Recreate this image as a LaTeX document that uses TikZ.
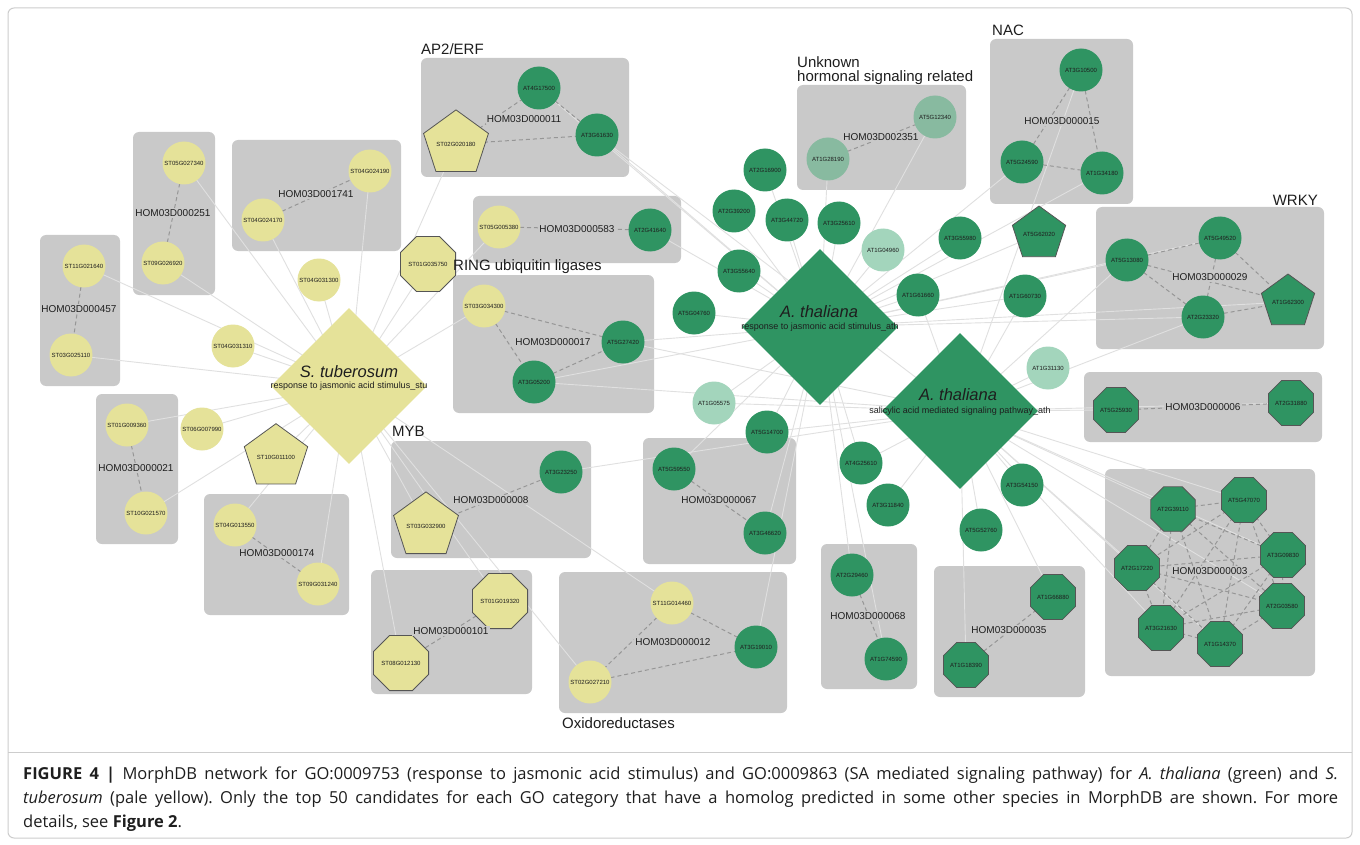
\documentclass[tikz,border=0pt]{standalone}
\usepackage{fontspec}
\setmainfont{Liberation Sans}
\newfontfamily\capfont{Open Sans}
\usetikzlibrary{shapes.geometric}
\pgfdeclarelayer{back}
\pgfdeclarelayer{boxes}
\pgfdeclarelayer{edges}
\pgfsetlayers{back,boxes,edges,main}
\frenchspacing

\definecolor{styellow}{RGB}{229,226,153}
\definecolor{atgreen}{RGB}{47,148,98}
\definecolor{atlight}{RGB}{163,213,188}
\definecolor{atmid}{RGB}{136,186,160}
\definecolor{boxgrey}{RGB}{201,201,201}
\definecolor{edgegrey}{RGB}{224,224,224}
\definecolor{dashgrey}{RGB}{150,150,150}
\definecolor{polyline}{RGB}{85,85,85}
\definecolor{txt}{RGB}{30,30,30}
\definecolor{framegrey}{RGB}{205,205,205}

\tikzset{
  gene/.style={circle, minimum size=43pt, inner sep=0pt, text=txt,
    font=\fontsize{6}{7}\selectfont},
  stc/.style={gene, fill=styellow},
  atc/.style={gene, fill=atgreen},
  atl/.style={gene, fill=atlight},
  atm/.style={gene, fill=atmid},
  pentnode/.style={regular polygon, regular polygon sides=5, minimum size=56pt,
    inner sep=0pt, draw=polyline, line width=0.8pt, text=txt,
    font=\fontsize{6}{7}\selectfont},
  octnode/.style={regular polygon, regular polygon sides=8, minimum size=47pt,
    inner sep=0pt, draw=polyline, line width=0.8pt, text=txt,
    font=\fontsize{6}{7}\selectfont},
  stp/.style={pentnode, fill=styellow},
  atp/.style={pentnode, fill=atgreen},
  sto/.style={octnode, fill=styellow},
  ato/.style={octnode, fill=atgreen},
  godiam/.style={diamond, minimum width=156pt, minimum height=156pt, inner sep=0pt},
  grp/.style={fill=boxgrey, rounded corners=6pt},
  homlab/.style={fill=boxgrey, inner sep=1pt, text=txt, font=\fontsize{10}{12}\selectfont},
  catlab/.style={text=txt, inner sep=0pt, font=\fontsize{15}{17}\selectfont},
  speclab/.style={text=txt, inner sep=0pt, font=\fontsize{16.5}{18}\selectfont\itshape},
  golab/.style={text=txt, inner sep=0pt, font=\fontsize{9}{10}\selectfont},
  goedge/.style={draw=edgegrey, line width=0.9pt},
  homedge/.style={draw=dashgrey, line width=1pt, dash pattern=on 4pt off 3pt},
  captxt/.style={anchor=base west, inner sep=0pt, text=txt, font=\capfont\fontsize{16.5}{18}\selectfont}
}
% one justified caption line, stretched to the full caption width
\newcommand\capline[1]{\makebox[1315pt][s]{#1}}

\begin{document}
\begin{tikzpicture}[x=1pt, y=-1pt]
\useasboundingbox (0,0) rectangle (1360,845);

\begin{pgfonlayer}{back}
  \fill[white] (0,0) rectangle (1360,845);
  \draw[framegrey, line width=1pt, rounded corners=6pt] (8,8) rectangle (1352,838);
  \draw[framegrey, line width=1pt] (8,752) -- (1352,752);
\end{pgfonlayer}

% homology group boxes
\begin{pgfonlayer}{boxes}
  \path[grp] (133,132) rectangle (215,295);
  \path[grp] (40,235) rectangle (120,386);
  \path[grp] (232,140) rectangle (401,251);
  \path[grp] (96,394) rectangle (178,544);
  \path[grp] (204,494) rectangle (349,615);
  \path[grp] (421,58) rectangle (629,177);
  \path[grp] (473,196) rectangle (681,263);
  \path[grp] (453,275) rectangle (654,413);
  \path[grp] (391,441) rectangle (591,558);
  \path[grp] (371,570) rectangle (532,694);
  \path[grp] (643,438) rectangle (796,564);
  \path[grp] (559,572) rectangle (787,713);
  \path[grp] (797,85) rectangle (966,190);
  \path[grp] (990,39) rectangle (1133,204);
  \path[grp] (1096,207) rectangle (1324,349);
  \path[grp] (821,544) rectangle (917,689);
  \path[grp] (934,566) rectangle (1085,697);
  \path[grp] (1084,372) rectangle (1322,442);
  \path[grp] (1105,469) rectangle (1315,676);
\end{pgfonlayer}

% GO category hubs
\node[godiam, fill=styellow] (stD) at (349,386) {};
\node[godiam, fill=atgreen] (jaD) at (820,327) {};
\node[godiam, fill=atgreen] (saD) at (960,411) {};
\node[speclab] (stT) at (349,372) {S. tuberosum};
\node[golab] (stS) at (349,386) {response to jasmonic acid stimulus\_stu};
\node[speclab] (jaT) at (819,312) {A. thaliana};
\node[golab] (jaS) at (820,327) {response to jasmonic acid stimulus\_ath};
\node[speclab] (saT) at (958,395) {A. thaliana};
\node[golab] (saS) at (960,411) {salicylic acid mediated signaling pathway\_ath};

% S. tuberosum genes
\node[stc] (s1) at (184,163) {ST05G027340};
\node[stc] (s2) at (163,263) {ST09G026920};
\node[stc] (s3) at (84,266) {ST11G021640};
\node[stc] (s4) at (71,355) {ST03G025110};
\node[stc] (s5) at (370,171) {ST04G024190};
\node[stc] (s6) at (263,220) {ST04G024170};
\node[stc] (s7) at (319,280) {ST04G031300};
\node[sto] (s8) at (428,264) {ST01G035750};
\node[stp] (s9) at (456,144) {ST02G020180};
\node[stc] (s10) at (499,227) {ST05G005380};
\node[stc] (s11) at (484,306) {ST03G034300};
\node[stc] (s12) at (233,346) {ST04G031310};
\node[stc] (s13) at (202,429) {ST06G007990};
\node[stc] (s14) at (127,425) {ST01G009360};
\node[stc] (s15) at (146,513) {ST10G021570};
\node[stp] (s16) at (276,457) {ST10G011100};
\node[stc] (s17) at (235,525) {ST04G013550};
\node[stc] (s18) at (318,584) {ST09G031240};
\node[stp] (s19) at (426,526) {ST03G032900};
\node[sto] (s20) at (500,601) {ST01G019320};
\node[sto] (s21) at (401,663) {ST08G012130};
\node[stc] (s22) at (672,603) {ST11G014460};
\node[stc] (s23) at (590,682) {ST02G027210};

% A. thaliana genes
\node[atc] (a1) at (539,88) {AT4G17500};
\node[atc] (a2) at (597,135) {AT3G61630};
\node[atc] (a3) at (650,230) {AT2G41640};
\node[atc] (a4) at (623,342) {AT5G27420};
\node[atc] (a5) at (534,382) {AT3G05200};
\node[atc] (a6) at (561,472) {AT3G23250};
\node[atc] (a7) at (674,469) {AT5G59550};
\node[atc] (a8) at (765,533) {AT3G46620};
\node[atc] (a9) at (767,432) {AT5G14700};
\node[atl] (a10) at (714,403) {AT1G05575};
\node[atc] (a11) at (756,647) {AT3G19010};
\node[atc] (a12) at (694,313) {AT5G04760};
\node[atc] (a13) at (739,271) {AT3G55640};
\node[atc] (a14) at (734,211) {AT2G39200};
\node[atc] (a15) at (765,170) {AT2G16900};
\node[atc] (a16) at (787,220) {AT3G44720};
\node[atc] (a17) at (839,223) {AT3G25610};
\node[atl] (a18) at (883,250) {AT1G04960};
\node[atm] (a19) at (828,159) {AT1G28190};
\node[atm] (a20) at (935,117) {AT5G12340};
\node[atc] (a21) at (960,238) {AT3G55980};
\node[atc] (a22) at (918,295) {AT1G61660};
\node[atc] (a23) at (1025,296) {AT1G60730};
\node[atc] (a24) at (1081,70) {AT3G10500};
\node[atc] (a25) at (1022,162) {AT5G24590};
\node[atc] (a26) at (1102,173) {AT1G34180};
\node[atp] (a27) at (1039,234) {AT5G62020};
\node[atc] (a28) at (1127,260) {AT5G13080};
\node[atc] (a29) at (1220,238) {AT5G49520};
\node[atc] (a30) at (1203,317) {AT2G23320};
\node[atp] (a31) at (1288,302) {AT1G62300};
\node[atl] (a32) at (1048,368) {AT1G31130};
\node[ato] (a33) at (1116,410) {AT5G25930};
\node[ato] (a34) at (1291,403) {AT2G31880};
\node[atc] (a35) at (861,463) {AT4G25610};
\node[atc] (a36) at (888,505) {AT3G11840};
\node[atc] (a37) at (981,530) {AT5G52760};
\node[atc] (a38) at (1022,485) {AT3G54150};
\node[atc] (a39) at (852,575) {AT2G29460};
\node[atc] (a40) at (886,659) {AT1G74590};
\node[ato] (a41) at (1053,597) {AT1G66880};
\node[ato] (a42) at (966,665) {AT1G18390};
\node[ato] (a43) at (1173,509) {AT2G39110};
\node[ato] (a44) at (1244,500) {AT5G47070};
\node[ato] (a45) at (1283,555) {AT3G09830};
\node[ato] (a46) at (1137,568) {AT2G17220};
\node[ato] (a47) at (1282,606) {AT2G03580};
\node[ato] (a48) at (1161,628) {AT3G21630};
\node[ato] (a49) at (1220,644) {AT1G14370};

% GO membership edges
\begin{pgfonlayer}{edges}
  \foreach \g in {s1,s2,s3,s4,s5,s6,s7,s8,s9,s10,s11,s12,s13,s14,s15,s16,s17,s18,s19,s20,s21,s22,s23}
    \draw[goedge] (stD.center) -- (\g.center);
  \foreach \g in {a1,a2,a3,a4,a5,a7,a8,a9,a10,a11,a12,a13,a14,a15,a16,a17,a18,a19,a20,a21,a22,a23,a25,a26,a27,a28,a29,a30,a31,a35,a39,a40}
    \draw[goedge] (jaD.center) -- (\g.center);
  \foreach \g in {a2,a4,a5,a6,a9,a10,a22,a23,a24,a28,a30,a32,a33,a34,a35,a36,a37,a38,a41,a42,a43,a44,a45,a46,a47,a48,a49}
    \draw[goedge] (saD.center) -- (\g.center);
% homology edges
  \foreach \p/\q in {s1/s2, s3/s4, s6/s5, s14/s15, s17/s18,
      s9/a1, s9/a2, a1/a2, s10/a3, s11/a4, s11/a5, a5/a4, s19/a6, s20/s21,
      s22/a11, s22/s23, s23/a11, a7/a8, a19/a20,
      a24/a25, a24/a26, a25/a26,
      a28/a29, a28/a30, a28/a31, a29/a30, a29/a31, a30/a31,
      a33/a34, a39/a40, a41/a42}
    \draw[homedge] (\p.center) -- (\q.center);
  \foreach \p/\q in {a43/a44, a43/a45, a43/a46, a43/a47, a43/a48, a43/a49,
      a44/a45, a44/a46, a44/a47, a44/a48, a44/a49,
      a45/a46, a45/a47, a45/a48, a45/a49,
      a46/a47, a46/a48, a46/a49,
      a47/a48, a47/a49, a48/a49}
    \draw[homedge] (\p.center) -- (\q.center);
\end{pgfonlayer}

% homology group names
\node[homlab] (h251) at (173,213) {HOM03D000251};
\node[homlab] (h457) at (79,309) {HOM03D000457};
\node[homlab] (h1741) at (316,194) {HOM03D001741};
\node[homlab] (h021) at (136,468) {HOM03D000021};
\node[homlab] (h174) at (277,553) {HOM03D000174};
\node[homlab] (h011) at (524,119) {HOM03D000011};
\node[homlab] (h583) at (577,229) {HOM03D000583};
\node[homlab] (h017) at (553,342) {HOM03D000017};
\node[homlab] (h008) at (491,500) {HOM03D000008};
\node[homlab] (h101) at (451,631) {HOM03D000101};
\node[homlab] (h067) at (719,500) {HOM03D000067};
\node[homlab] (h012) at (673,642) {HOM03D000012};
\node[homlab] (h2351) at (881,137) {HOM03D002351};
\node[homlab] (h015) at (1062,121) {HOM03D000015};
\node[homlab] (h029) at (1210,277) {HOM03D000029};
\node[homlab] (h068) at (868,616) {HOM03D000068};
\node[homlab] (h035) at (1009,630) {HOM03D000035};
\node[homlab] (h006) at (1203,407) {HOM03D000006};
\node[homlab] (h003) at (1210,571) {HOM03D000003};

% family annotations
\node[catlab, anchor=west] (cAP) at (421,49) {AP2/ERF};
\node[catlab, anchor=west] (cRING) at (453,267) {RING ubiquitin ligases};
\node[catlab, anchor=west] (cMYB) at (392,431) {MYB};
\node[catlab, anchor=west] (cOX) at (562,723) {Oxidoreductases};
\node[catlab, anchor=base west] (cUNK1) at (797,68) {Unknown};
\node[catlab, anchor=base west] (cUNK2) at (797,82) {hormonal signaling related};
\node[catlab, anchor=west] (cNAC) at (992,30) {NAC};
\node[catlab, anchor=east] (cWRKY) at (1318,200) {WRKY};

% caption
\node[captxt] (cap1) at (23,779) {\capline{\textbf{FIGURE 4 |} MorphDB network for GO:0009753 (response to jasmonic acid stimulus) and GO:0009863 (SA mediated signaling pathway) for \textit{A. thaliana} (green) and \textit{S.}}};
\node[captxt] (cap2) at (23,803) {\capline{\textit{tuberosum} (pale yellow). Only the top 50 candidates for each GO category that have a homolog predicted in some other species in MorphDB are shown. For more}};
\node[captxt] (cap3) at (23,827) {details, see \textbf{Figure 2}.};
\end{tikzpicture}
\end{document}
